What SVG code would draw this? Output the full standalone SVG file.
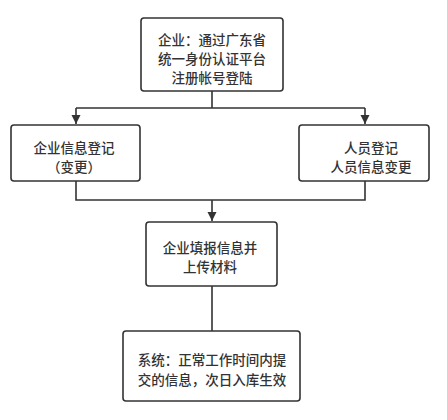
<svg xmlns="http://www.w3.org/2000/svg" width="447" height="420" viewBox="0 0 447 420">
<style>
.box{fill:#fff;stroke:#333;stroke-width:1.6}
.t{font-family:"Noto Sans CJK SC","Microsoft YaHei",sans-serif;font-size:13.5px;font-weight:500;fill:#333;text-anchor:middle}
.c{fill:none;stroke:#333;stroke-width:1.6}
</style>
<defs>
<marker id="ah" markerWidth="10" markerHeight="10" refX="9" refY="5" orient="auto" markerUnits="userSpaceOnUse">
<path d="M0,0.5 L9,5 L0,9.5 Z" fill="#333"/>
</marker>
</defs>
<rect width="447" height="420" fill="#fff"/>
<g id="connectors">
<path class="c" d="M212,91 V108 M76,108 H365"/>
<path class="c" d="M76,108 V124" marker-end="url(#ah)"/>
<path class="c" d="M365,108 V124" marker-end="url(#ah)"/>
<path class="c" d="M76,181 V200 H365 V181 M212,200 V221" marker-end="url(#ah)"/>
<path class="c" d="M212,286 V331"/>
</g>
<g id="n1">
<rect class="box" x="141" y="18" width="142" height="73" rx="3"/>
<text class="t" x="212" y="44.5">企业：通过广东省</text>
<text class="t" x="212" y="63.8">统一身份认证平台</text>
<text class="t" x="212" y="83">注册帐号登陆</text>
</g>
<g id="n2">
<rect class="box" x="11" y="125" width="129" height="56" rx="3"/>
<text class="t" x="74" y="152.5">企业信息登记</text>
<text class="t" x="74" y="172">（变更）</text>
</g>
<g id="n3">
<rect class="box" x="299" y="125" width="130" height="56" rx="3"/>
<text class="t" x="371" y="152.5">人员登记</text>
<text class="t" x="371" y="172">人员信息变更</text>
</g>
<g id="n4">
<rect class="box" x="146" y="222" width="131" height="64" rx="3"/>
<text class="t" x="210" y="252.5">企业填报信息并</text>
<text class="t" x="210" y="272">上传材料</text>
</g>
<g id="n5">
<rect class="box" x="123" y="331" width="177" height="70" rx="3"/>
<text class="t" x="212" y="365">系统：正常工作时间内提</text>
<text class="t" x="212" y="384.5">交的信息，次日入库生效</text>
</g>
</svg>
